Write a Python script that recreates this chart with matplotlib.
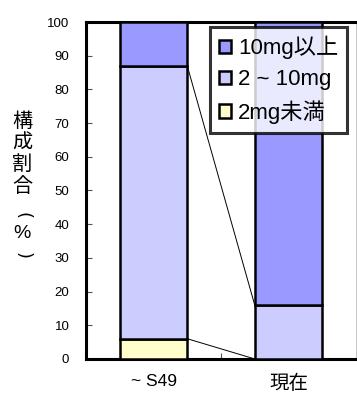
import numpy as np
import matplotlib
matplotlib.use("Agg")
import matplotlib.pyplot as plt
from matplotlib.patches import Patch

plt.rcParams['font.family'] = ['Liberation Sans', 'Noto Sans CJK JP', 'DejaVu Sans']

# Composition ratio (%) by size class, bottom to top
periods = ["~ S49", "現在"]
size_classes = ["2mg未満", "2 ~ 10mg", "10mg以上"]
share_small = [6, 0]
share_mid = [81, 16]
share_large = [13, 84]
colors = ["#FFFFCC", "#CCCCFF", "#9999FF"]

y_ticks = list(range(0, 101, 10))

fig = plt.figure(figsize=(3.57, 3.94), dpi=100)
ax = fig.add_axes([0.241, 0.089, 0.756, 0.855])

x = np.arange(len(periods))
width = 0.5
bottom = np.zeros(len(periods))
tops = []
for vals, col, name in zip([share_small, share_mid, share_large], colors, size_classes):
    ax.bar(x, vals, width, bottom=bottom, color=col, edgecolor="black",
           linewidth=1.8, label=name, zorder=3)
    bottom = bottom + np.array(vals)
    tops.append(bottom.copy())

# series lines joining the cumulative levels of neighbouring bars
for lvl in tops:
    ax.plot([x[0] + width / 2, x[1] - width / 2], [lvl[0], lvl[1]],
            color="black", linewidth=0.7, zorder=2)

ax.set_xlim(-0.5, 1.5)
ax.set_ylim(0, 100)
ax.set_yticks(y_ticks)
ax.set_xticks(x)
ax.set_xticklabels(periods, fontsize=12.5)
# the kanji label sits a little larger than the latin one
ax.get_xticklabels()[1].set_fontsize(14)
ax.set_xticks([0.5], minor=True)
ax.tick_params(axis="y", direction="in", length=4, width=0.8, color="#555555",
               labelsize=9.5, pad=12)
ax.tick_params(axis="x", which="major", length=0, pad=11)
ax.tick_params(axis="x", which="minor", direction="in", length=4, width=0.8,
               color="#555555")

for side in ["left", "bottom", "top"]:
    ax.spines[side].set_linewidth(2.2)
    ax.spines[side].set_color("black")
ax.spines["right"].set_linewidth(0.6)
ax.spines["right"].set_color("#bbbbbb")

# vertical axis title, stacked characters with rotated brackets
ylab_font = dict(fontsize=14.5, ha="center", va="center",
                 family=['Noto Sans CJK JP', 'DejaVu Sans'])
fig.text(0.062, 1 - 154 / 394, "構\n成\n割\n合", linespacing=1.05, **ylab_font)
fig.text(0.062, 1 - 216 / 394, "(", rotation=-90, fontsize=13, ha="center",
         va="center", family="DejaVu Sans")
fig.text(0.062, 1 - 234 / 394, "%", fontsize=14, ha="center", va="center",
         family="Liberation Sans")
fig.text(0.062, 1 - 256 / 394, ")", rotation=-90, fontsize=13, ha="center",
         va="center", family="DejaVu Sans")

handles = [Patch(facecolor=c, edgecolor="black", linewidth=1.8) for c in colors][::-1]
leg = ax.legend(handles, size_classes[::-1], loc="upper right",
                bbox_to_anchor=(0.967, 0.985), borderaxespad=0, fontsize=16,
                frameon=True, fancybox=False, handlelength=0.55, handleheight=0.55,
                handletextpad=0.3, labelspacing=0.45, borderpad=0.4)
leg.get_frame().set_edgecolor("black")
leg.get_frame().set_linewidth(2.2)
leg.set_zorder(5)

fig.savefig("out.png", dpi=100)
